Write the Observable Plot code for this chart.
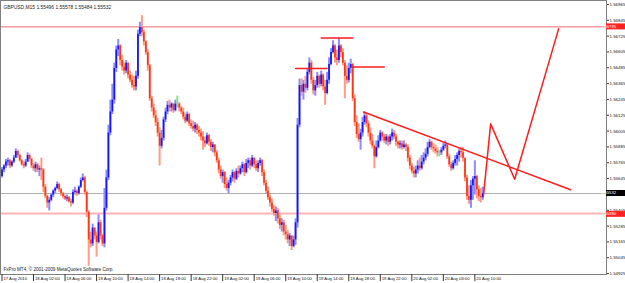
<!DOCTYPE html>
<html><head><meta charset="utf-8">
<script src="https://cdn.jsdelivr.net/npm/d3@7"></script>
<script src="https://cdn.jsdelivr.net/npm/@observablehq/plot@0.6"></script>
<style>
html,body{margin:0;padding:0;background:#fff;}
#chart svg{display:block;}
</style></head><body><div id="chart"></div>
<script>
const title = "GBPUSD,M15 1.55496 1.55578 1.55484 1.55532";
const copyright = "FxPro MT4, \u00a9 2001-2009 MetaQuotes Software Corp.";
const firstOpen = 1.5566;
const closes = [
1.5571,1.5574,1.5577,1.5578,1.5574,1.5577,1.5580,1.5585,1.5582,1.5578,
1.5575,1.5574,1.5577,1.5582,1.5579,1.5574,1.5572,1.5575,1.5571,1.5572,
1.5571,1.5558,1.5551,1.5546,1.5548,1.5552,1.5555,1.5557,1.5560,1.5556,
1.5553,1.5551,1.5549,1.5550,1.5547,1.5546,1.5554,1.5555,1.5553,1.5558,
1.5563,1.5565,1.5554,1.5539,1.5518,1.5515,1.5527,1.5521,1.5516,1.5531,
1.5521,1.5515,1.5542,1.5565,1.5599,1.5615,1.5624,1.5648,1.5662,1.5665,
1.5654,1.5649,1.5646,1.5652,1.5643,1.5639,1.5635,1.5634,1.5642,1.5674,
1.5679,1.5675,1.5668,1.5660,1.5650,1.5625,1.5618,1.5612,1.5607,1.5599,
1.5589,1.5595,1.5609,1.5615,1.5620,1.5618,1.5621,1.5616,1.5621,1.5621,
1.5618,1.5615,1.5611,1.5608,1.5613,1.5606,1.5604,1.5602,1.5605,1.5601,
1.5599,1.5596,1.5593,1.5591,1.5597,1.5592,1.5588,1.5590,1.5584,1.5578,
1.5571,1.5566,1.5569,1.5560,1.5557,1.5561,1.5565,1.5569,1.5564,1.5570,
1.5568,1.5572,1.5575,1.5569,1.5576,1.5578,1.5574,1.5580,1.5575,1.5572,
1.5576,1.5578,1.5569,1.5561,1.5555,1.5550,1.5546,1.5541,1.5538,1.5540,
1.5534,1.5529,1.5531,1.5524,1.5522,1.5518,1.5521,1.5513,1.5518,1.5531,
1.5605,1.5635,1.5630,1.5636,1.5633,1.5645,1.5652,1.5639,1.5631,1.5635,
1.5642,1.5636,1.5643,1.5634,1.5629,1.5639,1.5651,1.5660,1.5665,1.5656,
1.5654,1.5665,1.5660,1.5652,1.5642,1.5639,1.5648,1.5651,1.5625,1.5607,
1.5598,1.5594,1.5599,1.5607,1.5612,1.5606,1.5599,1.5593,1.5589,1.5581,
1.5588,1.5593,1.5599,1.5596,1.5593,1.5596,1.5592,1.5596,1.5599,1.5596,
1.5592,1.5590,1.5591,1.5588,1.5590,1.5588,1.5580,1.5574,1.5570,1.5568,
1.5571,1.5574,1.5572,1.5577,1.5580,1.5583,1.5588,1.5592,1.5588,1.5587,
1.5585,1.5584,1.5584,1.5586,1.5589,1.5590,1.5581,1.5575,1.5572,1.5576,
1.5579,1.5582,1.5585,1.5584,1.5580,1.5565,1.5551,1.5548,1.5559,1.5564,
1.5566,1.5556,1.5551,1.5550,1.5553];
const highs = [
1.5573,1.5575,1.5579,1.5580,1.5579,1.5578,1.5582,1.5587,1.5586,1.5583,
1.5579,1.5577,1.5579,1.5584,1.5583,1.5580,1.5576,1.5577,1.5576,1.5574,
1.5580,1.5572,1.5560,1.5552,1.5550,1.5553,1.5556,1.5558,1.5562,1.5561,
1.5557,1.5554,1.5552,1.5552,1.5551,1.5549,1.5556,1.5558,1.5556,1.5559,
1.5565,1.5568,1.5566,1.5555,1.5540,1.5524,1.5530,1.5527,1.5524,1.5537,
1.5533,1.5522,1.5557,1.5571,1.5605,1.5624,1.5636,1.5652,1.5665,1.5670,
1.5666,1.5658,1.5652,1.5654,1.5652,1.5646,1.5643,1.5642,1.5646,1.5677,
1.5683,1.5688,1.5677,1.5669,1.5662,1.5651,1.5627,1.5621,1.5616,1.5610,
1.5603,1.5601,1.5611,1.5618,1.5623,1.5624,1.5622,1.5621,1.5624,1.5627,
1.5622,1.5619,1.5618,1.5614,1.5615,1.5614,1.5609,1.5608,1.5607,1.5606,
1.5604,1.5602,1.5600,1.5596,1.5599,1.5598,1.5594,1.5592,1.5590,1.5586,
1.5580,1.5574,1.5571,1.5570,1.5565,1.5563,1.5567,1.5571,1.5570,1.5572,
1.5574,1.5574,1.5577,1.5576,1.5579,1.5580,1.5580,1.5582,1.5580,1.5578,
1.5578,1.5580,1.5579,1.5571,1.5563,1.5558,1.5552,1.5549,1.5544,1.5543,
1.5542,1.5537,1.5534,1.5533,1.5529,1.5525,1.5523,1.5521,1.5521,1.5534,
1.5610,1.5640,1.5640,1.5639,1.5642,1.5648,1.5656,1.5654,1.5641,1.5639,
1.5645,1.5643,1.5646,1.5644,1.5639,1.5645,1.5656,1.5663,1.5669,1.5666,
1.5662,1.5671,1.5666,1.5663,1.5654,1.5650,1.5652,1.5655,1.5652,1.5628,
1.5612,1.5606,1.5602,1.5611,1.5615,1.5614,1.5608,1.5603,1.5598,1.5590,
1.5593,1.5597,1.5601,1.5600,1.5598,1.5598,1.5597,1.5598,1.5602,1.5601,
1.5598,1.5593,1.5593,1.5593,1.5593,1.5591,1.5590,1.5582,1.5576,1.5573,
1.5574,1.5578,1.5580,1.5582,1.5584,1.5587,1.5592,1.5594,1.5593,1.5591,
1.5590,1.5588,1.5586,1.5588,1.5591,1.5593,1.5591,1.5583,1.5577,1.5578,
1.5582,1.5584,1.5587,1.5588,1.5588,1.5580,1.5567,1.5559,1.5563,1.5566,
1.5578,1.5567,1.5559,1.5557,1.5558];
const lows = [
1.5565,1.5569,1.5572,1.5574,1.5572,1.5573,1.5576,1.5580,1.5580,1.5577,
1.5574,1.5572,1.5573,1.5577,1.5577,1.5572,1.5570,1.5569,1.5569,1.5566,
1.5563,1.5554,1.5549,1.5542,1.5540,1.5547,1.5550,1.5553,1.5556,1.5554,
1.5551,1.5549,1.5548,1.5547,1.5546,1.5543,1.5545,1.5552,1.5551,1.5552,
1.5557,1.5562,1.5552,1.5535,1.5498,1.5512,1.5513,1.5518,1.5505,1.5515,
1.5518,1.5513,1.5512,1.5540,1.5563,1.5597,1.5613,1.5621,1.5645,1.5657,
1.5650,1.5646,1.5643,1.5644,1.5640,1.5637,1.5633,1.5631,1.5631,1.5640,
1.5672,1.5672,1.5665,1.5658,1.5646,1.5623,1.5615,1.5610,1.5604,1.5596,
1.5574,1.5587,1.5593,1.5607,1.5613,1.5615,1.5615,1.5614,1.5615,1.5618,
1.5615,1.5613,1.5609,1.5606,1.5607,1.5604,1.5602,1.5600,1.5599,1.5598,
1.5596,1.5593,1.5586,1.5588,1.5590,1.5589,1.5585,1.5584,1.5581,1.5576,
1.5568,1.5564,1.5561,1.5557,1.5555,1.5553,1.5559,1.5562,1.5561,1.5563,
1.5565,1.5567,1.5569,1.5566,1.5568,1.5572,1.5571,1.5573,1.5572,1.5570,
1.5569,1.5574,1.5566,1.5559,1.5553,1.5548,1.5543,1.5539,1.5536,1.5532,
1.5530,1.5526,1.5524,1.5521,1.5518,1.5515,1.5513,1.5510,1.5512,1.5514,
1.5527,1.5603,1.5627,1.5624,1.5629,1.5631,1.5643,1.5636,1.5628,1.5627,
1.5633,1.5633,1.5634,1.5631,1.5620,1.5628,1.5636,1.5650,1.5659,1.5652,
1.5650,1.5652,1.5656,1.5650,1.5625,1.5636,1.5637,1.5644,1.5623,1.5604,
1.5595,1.5592,1.5586,1.5596,1.5605,1.5603,1.5596,1.5590,1.5587,1.5572,
1.5580,1.5587,1.5592,1.5593,1.5591,1.5590,1.5589,1.5590,1.5593,1.5594,
1.5589,1.5587,1.5587,1.5586,1.5587,1.5585,1.5577,1.5571,1.5568,1.5565,
1.5565,1.5568,1.5570,1.5571,1.5575,1.5578,1.5581,1.5587,1.5586,1.5584,
1.5583,1.5581,1.5581,1.5582,1.5585,1.5587,1.5579,1.5573,1.5570,1.5571,
1.5574,1.5574,1.5577,1.5580,1.5577,1.5562,1.5548,1.5545,1.5542,1.5548,
1.5552,1.5549,1.5547,1.5546,1.5548];

const yTicks = [1.56965,1.56845,1.56725,1.56605,1.56485,1.56365,1.56245,1.56125,1.56005,
  1.55885,1.55765,1.55645,1.55525,1.55405,1.55285,1.55165,1.55045,1.54925];
const xTickIndex = [0,16,32,48,64,80,96,112,128,144,160,176,192,208,224,240];
const xTickLabels = ["17 Aug 2010","18 Aug 02:00","18 Aug 06:00","18 Aug 10:00","18 Aug 14:00",
  "18 Aug 18:00","18 Aug 22:00","19 Aug 02:00","19 Aug 06:00","19 Aug 10:00","19 Aug 14:00",
  "19 Aug 18:00","19 Aug 22:00","20 Aug 02:00","20 Aug 06:00","20 Aug 10:00"];

const levelTop = 1.56795;
const levelBid = 1.55532;
const levelLow = 1.55380;

// hand-drawn annotations: [bar index, price]
const segLeft  = [[149, 1.5648], [165, 1.5648]];
const segTop   = [[162, 1.5671], [178, 1.5671]];
const segRight = [[178, 1.5649], [194, 1.5649]];
const trendLine = [[183.5, 1.5615], [288.6, 1.5556]];
const zigzag = [[244.4, 1.5552], [248, 1.5606], [260.2, 1.5564], [282.5, 1.5678]];

const bars = closes.map((c, i) => ({i, o: i ? closes[i - 1] : firstOpen, c, h: highs[i], l: lows[i]}));
const kind = d => d.c > d.o ? "up" : d.c < d.o ? "down" : "flat";
const wickColor = {up: "#8c8cff", down: "#ff9c86", flat: "#86e086"};
const bodyColor = {up: "#1414ff", down: "#ff3614", flat: "#2ed02e"};
const FONT = "'Liberation Sans', Arial, sans-serif";
const ann = {x: d => d[0], y: d => d[1], stroke: "#ff1c1c", strokeWidth: 1.5};
// tick labels hidden by the bid marker in the reference are not drawn
const shownTicks = yTicks.filter(v => Math.abs(v - levelBid) > 0.0002);

const chart = Plot.plot({
  width: 625, height: 283,
  marginLeft: 0, marginRight: 19, marginTop: 0, marginBottom: 9,
  style: {fontFamily: FONT, background: "#fff", overflow: "visible"},
  x: {type: "linear", domain: [0, 306.3], range: [1.5, 605], axis: null},
  y: {domain: [1.54918, 1.56995], range: [274, 0], axis: null},
  marks: [
    Plot.ruleY([levelTop], {stroke: "#f06a6a", strokeWidth: 1}),
    Plot.ruleY([levelBid], {stroke: "#b0b0b0", strokeWidth: 1}),
    Plot.ruleY([levelLow], {stroke: "#ffb4b4", strokeWidth: 2}),
    Plot.ruleX(bars, {x: "i", y1: "l", y2: "h", stroke: d => wickColor[kind(d)], strokeWidth: 2}),
    Plot.ruleX(bars.filter(d => kind(d) !== "flat"), {x: "i", y1: "o", y2: "c", stroke: d => bodyColor[kind(d)], strokeWidth: 1.7}),
    Plot.line(segLeft, ann),
    Plot.line(segTop, ann),
    Plot.line(segRight, ann),
    Plot.line(trendLine, ann),
    Plot.line(zigzag, ann),
    Plot.frame({stroke: "#808080"}),
    Plot.axisY({anchor: "right", ticks: shownTicks, tickFormat: d3.format(".5f"), tickSize: 2, tickPadding: 1,
      fontSize: 4.4, label: null, stroke: "#333", fill: "#111"}),
    Plot.axisX({anchor: "bottom", ticks: xTickIndex, tickFormat: () => "", tickSize: 7, label: null, stroke: "#333"}),
    Plot.text(xTickIndex, {x: d => d, text: (d, i) => xTickLabels[i], frameAnchor: "bottom",
      textAnchor: "start", dx: 1.5, dy: 5.3, fontSize: 4.2, fill: "#111"}),
    Plot.text([title], {frameAnchor: "top-left", dx: 3, dy: 5.5, textAnchor: "start", fontSize: 4.9, fill: "#222"}),
    Plot.text([copyright], {frameAnchor: "bottom-left", dx: 3, dy: -4, textAnchor: "start", fontSize: 4.6, fill: "#222"})
  ]
});

const ys = chart.scale("y");
const g = d3.select(chart).append("g").attr("font-family", FONT).attr("font-size", 4.2);
[[levelTop, "#ff2222", 0], [levelBid, "#000", 0], [levelLow, "#ff2222", 0.8]].forEach(([v, bg, shift]) => {
  const y = ys.apply(v) + shift;
  g.append("rect").attr("x", 606).attr("y", y - 3).attr("width", 19).attr("height", 6).attr("fill", bg);
  g.append("text").attr("x", 608.5).attr("y", y).attr("dy", "0.35em").attr("fill", "#fff").text(d3.format(".5f")(v));
});
document.getElementById("chart").appendChild(chart);
</script></body></html>
